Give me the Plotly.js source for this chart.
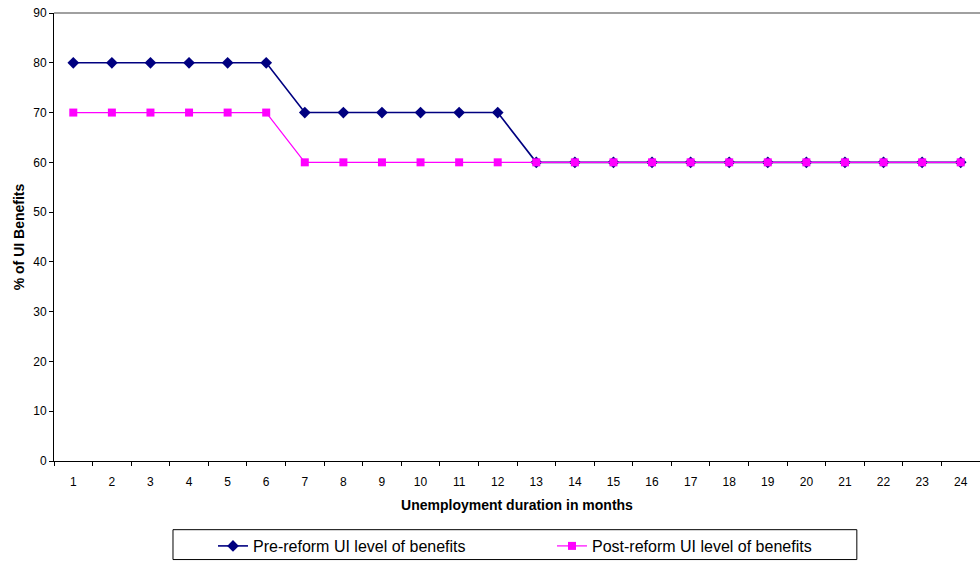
<!DOCTYPE html>
<html>
<head>
<meta charset="utf-8">
<script src="https://cdn.plot.ly/plotly-3.0.1.min.js"></script>
<style>
  html, body { margin: 0; padding: 0; background: #ffffff; }
  #chart { width: 980px; height: 563px; }
</style>
</head>
<body>
<div id="chart"></div>
<script>
// Months of unemployment (category axis)
const months = ['1','2','3','4','5','6','7','8','9','10','11','12',
                '13','14','15','16','17','18','19','20','21','22','23','24'];

// Benefit level, % of UI benefits
const preReform  = [80, 80, 80, 80, 80, 80, 70, 70, 70, 70, 70, 70,
                    60, 60, 60, 60, 60, 60, 60, 60, 60, 60, 60, 60];
const postReform = [70, 70, 70, 70, 70, 70, 60, 60, 60, 60, 60, 60,
                    60, 60, 60, 60, 60, 60, 60, 60, 60, 60, 60, 60];

const seriesNames = ['Pre-reform UI level of benefits', 'Post-reform UI level of benefits'];

const traces = [
  {
    x: months, y: preReform, name: seriesNames[0],
    type: 'scatter', mode: 'lines+markers',
    line: { color: '#000080', width: 1.6 },
    marker: { symbol: 'diamond', size: 9, color: '#000080' }
  },
  {
    x: months, y: postReform, name: seriesNames[1],
    type: 'scatter', mode: 'lines+markers',
    line: { color: '#FF00FF', width: 1.2 },
    marker: { symbol: 'square', size: 8, color: '#FF00FF' }
  }
];

const font = { family: 'Liberation Sans, Arial, sans-serif', color: '#000000' };

const layout = {
  width: 980, height: 563,
  paper_bgcolor: '#ffffff', plot_bgcolor: '#ffffff',
  margin: { l: 54, r: 0, t: 13, b: 100 },
  font: Object.assign({ size: 12 }, font),
  showlegend: true,
  legend: {
    orientation: 'h',
    x: 0.1717, xanchor: 'left',
    y: -0.152, yanchor: 'top',
    font: Object.assign({ size: 16 }, font),
    bgcolor: 'rgba(0,0,0,0)',
    borderwidth: 0,
    entrywidth: 294, entrywidthmode: 'pixels'
  },
  xaxis: {
    type: 'category',
    range: [-0.5, 23.5],
    tickson: 'boundaries',
    ticks: 'outside', ticklen: 4, tickcolor: '#000000', tickwidth: 1,
    ticklabelstandoff: 10,
    showline: true, linecolor: '#000000', linewidth: 1,
    showgrid: false, zeroline: false,
    tickfont: Object.assign({ size: 12 }, font),
    title: { text: '<b>Unemployment duration in months</b>', font: Object.assign({ size: 14 }, font), standoff: 11 }
  },
  yaxis: {
    range: [0, 90], dtick: 10, tick0: 0,
    ticks: 'outside', ticklen: 4, tickcolor: '#000000', tickwidth: 1,
    showline: true, linecolor: '#000000', linewidth: 1,
    showgrid: false, zeroline: false,
    tickfont: Object.assign({ size: 12 }, font),
    title: { text: '<b>% of UI Benefits</b>', font: Object.assign({ size: 14 }, font), standoff: 5 }
  },
  shapes: [
    // plot area top border
    { type: 'line', xref: 'paper', yref: 'paper', x0: 0, x1: 1, y0: 1, y1: 1,
      line: { color: '#808080', width: 1.5 } },
    // legend frame
    { type: 'rect', xref: 'paper', yref: 'paper', x0: 0.1285, x1: 0.867, y0: -0.1533, y1: -0.22,
      line: { color: '#000000', width: 1 }, fillcolor: 'rgba(0,0,0,0)' }
  ]
};

Plotly.newPlot('chart', traces, layout, { displayModeBar: false, staticPlot: true });
</script>
</body>
</html>
